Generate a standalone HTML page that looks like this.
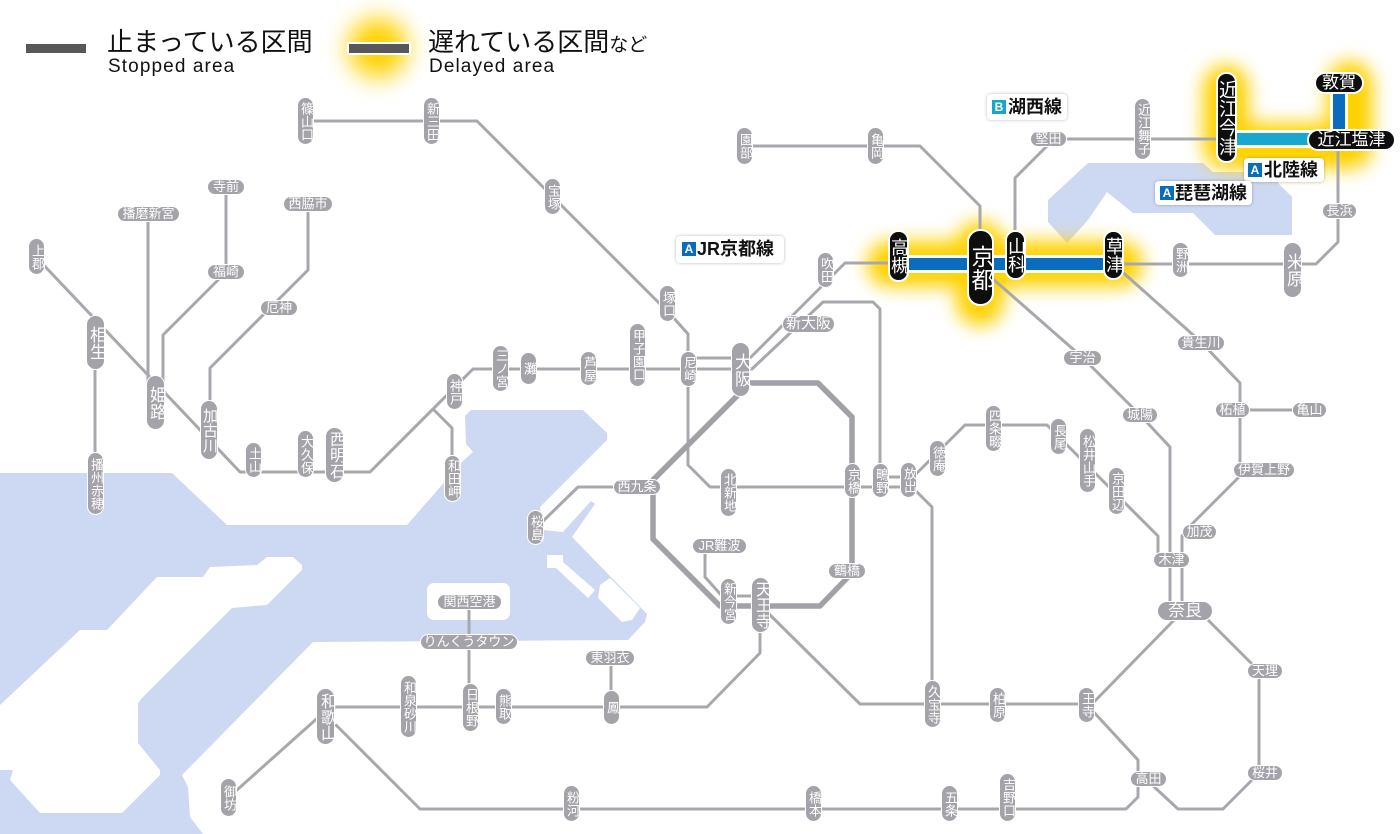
<!DOCTYPE html>
<html><head><meta charset="utf-8">
<style>
html,body{margin:0;padding:0;background:#fff}
#c{position:relative;width:1400px;height:834px;overflow:hidden;background:#fff;font-family:"Liberation Sans","Noto Sans CJK JP",sans-serif}
svg{position:absolute;left:0;top:0}
.p{position:absolute;box-sizing:border-box;border:1.5px solid #fff;background:#a4a3a9;color:#fff;text-align:center;white-space:nowrap;font-size:13px;font-family:"Liberation Sans","Noto Sans CJK JP",sans-serif}
.v{writing-mode:vertical-rl;text-orientation:upright}
.k{background:#0e0e0e;border:2px solid #fff}
.t{position:absolute;white-space:nowrap;color:#111}
.lb{position:absolute;background:#fff;border-radius:4px;box-shadow:0 0 3px rgba(0,0,0,.28)}
.sq{position:absolute;color:#fff;font-family:"Liberation Sans",sans-serif;font-weight:bold;font-size:12px;text-align:center}
.lt{position:absolute;white-space:nowrap;color:#111;font-size:18px;font-weight:bold;font-family:"Liberation Sans","Noto Sans CJK JP",sans-serif}
</style></head><body><div id="c">
<svg width="1400" height="834" viewBox="0 0 1400 834">
<defs>
<filter id="bl" x="-50%" y="-50%" width="200%" height="200%"><feGaussianBlur stdDeviation="9"/></filter>
<filter id="bl2" x="-80%" y="-80%" width="260%" height="260%"><feGaussianBlur stdDeviation="12"/></filter>
</defs>
<!-- water -->
<polygon fill="#cdd8f2" points="0,473 172,473 227,525 407,525 462,462 473,452 466,444 465,416 471,410 583,410 607,433 607,440 540,507 543,530 563,532 591,501 595,504 572,537 647,614 645,622 628,640 313,642 182,775 188,787 190,817 203,834 0,834"/>
<polygon fill="#fff" points="0,705 80,630 107,630 157,577 203,577 210,567 257,565 267,557 293,557 302,565 302,570 267,605 232,608 143,697 138,703 138,743 160,770 160,775 122,813 40,813 10,780 13,770 0,770"/>
<rect x="427" y="583" width="83" height="37" rx="7" fill="#fff"/>
<polygon fill="#fff" points="547,555 563,555 563,562 595,590 588,598 556,568 547,568"/>
<polygon fill="#fff" points="600,585 610,578 640,608 632,620 622,622 598,598"/>
<!-- lake -->
<polygon fill="#cdd8f2" points="1088,163 1203,163 1213,172 1270,172 1280,185 1292,197 1292,235 1215,235 1193,213 1133,213 1107,192 1088,220 1067,243 1048,222 1048,200"/>
<!-- glow -->
<g filter="url(#bl)" fill="none" stroke="#ffd200" stroke-linecap="round" stroke-linejoin="round">
<path d="M890,264 H1120" stroke-width="46"/>
<path d="M980,245 V302" stroke-width="48"/>
<path d="M1226,88 V146 H1350 V84" stroke-width="46"/>
</g>
<circle cx="378" cy="48" r="30" fill="#ffd200" filter="url(#bl2)"/>
<!-- gray lines -->
<g fill="none" stroke="#a8a7ad" stroke-width="3" stroke-linejoin="round">
<path d="M305,121 H477 L672,316 L688,334 V368"/>
<path d="M688,368 V465 L710,487 H908"/>
<path d="M36,257 L240,472 H370 L473,369 H752 L823,302 H873 L880,309 V480"/>
<path d="M688,358 H750 L845,263 H890"/>
<path d="M537,527 L578,487 H637"/>
<path d="M705,547 V577 L722,596 H760"/>
<path d="M760,606 V653 L707,707 H325"/>
<path d="M765,610 L860,704 H1092 L1178,616"/>
<path d="M1090,708 L1138,760 V779"/>
<path d="M1138,779 V797 L1126,809 H420 L330,719"/>
<path d="M1150,783 L1178,809 H1223 L1259,773 V671 L1208,620"/>
<path d="M228,798 L322,714"/>
<path d="M469,602 V707"/>
<path d="M611,658 V707"/>
<path d="M744,146 H920 L980,206 V267"/>
<path d="M1113,264 H1316 L1338,242 V150"/>
<path d="M1015,254 V178 L1054,139 H1226"/>
<path d="M985,272 L1082,357 L1140,415 L1170,447 V611"/>
<path d="M1118,268 L1201,342 L1240,383 V476"/>
<path d="M1240,410 H1309"/>
<path d="M1240,476 L1192,524 L1182,536 V611"/>
<path d="M908,482 L965,425 H1047 L1158,536 V560"/>
<path d="M912,487 L932,507 V704"/>
<path d="M880,477 H908"/>
<path d="M95,342 V483"/>
<path d="M148,214 V402"/>
<path d="M226,187 V272 L163,335 V402"/>
<path d="M308,204 V270 L210,368 V430"/>
<path d="M433,409 L452,428 V478"/>
<path d="M745,383 H818 L852,417 V573 L820,606 H720 L653,539 V480 L740,393" stroke-width="5.5" stroke="#a2a1a8"/>
</g>
<!-- delayed colored lines -->
<g fill="none" stroke-linecap="butt">
<path d="M888,264 H1120" stroke="#fff" stroke-width="18"/>
<path d="M888,264 H1120" stroke="#0b6cbe" stroke-width="12"/>
<path d="M1339,80 V146" stroke="#fff" stroke-width="18"/>
<path d="M1226,139 H1346" stroke="#fff" stroke-width="18"/>
<path d="M1339,80 V140" stroke="#0b6cbe" stroke-width="12"/>
<path d="M1226,139 H1340" stroke="#18a8cf" stroke-width="12"/>
</g>
<!-- legend bars -->
<rect x="26" y="44" width="60" height="9" fill="#58585b"/>
<rect x="347" y="42" width="64" height="13" fill="#fff"/>
<rect x="349" y="44" width="60" height="9" fill="#58585b"/>
</svg>

<!-- legend text -->
<div class="t" style="left:107px;top:28px;font-size:26px;line-height:28px;">止まっている区間</div>
<div class="t" style="left:108px;top:57px;font-size:19px;line-height:20px;letter-spacing:1.1px;">Stopped area</div>
<div class="t" style="left:428px;top:28px;font-size:26px;line-height:28px;">遅れている区間<span style="font-size:19px">など</span></div>
<div class="t" style="left:429px;top:57px;font-size:19px;line-height:20px;letter-spacing:1.1px;">Delayed area</div>

<!-- line labels -->
<div class="lb" style="left:676px;top:236px;width:108px;height:27px"></div>
<div class="sq" style="left:682px;top:242px;width:14px;height:14px;line-height:14px;background:#0b6cb9">A</div>
<div class="lt" style="left:697px;top:236px;line-height:27px">JR京都線</div>

<div class="lb" style="left:987px;top:94px;width:80px;height:26px"></div>
<div class="sq" style="left:992px;top:100px;width:14px;height:14px;line-height:14px;background:#18a6cd">B</div>
<div class="lt" style="left:1008px;top:94px;line-height:26px">湖西線</div>

<div class="lb" style="left:1244px;top:158px;width:80px;height:24px"></div>
<div class="sq" style="left:1248px;top:163px;width:14px;height:14px;line-height:14px;background:#0b6cb9">A</div>
<div class="lt" style="left:1264px;top:158px;line-height:24px">北陸線</div>

<div class="lb" style="left:1155px;top:181px;width:97px;height:24px"></div>
<div class="sq" style="left:1160px;top:186px;width:14px;height:14px;line-height:14px;background:#0b6cb9">A</div>
<div class="lt" style="left:1175px;top:181px;line-height:24px">琵琶湖線</div>

<!-- vertical gray stations -->
<div class="p v" style="left:297px;top:97px;width:17px;height:48px;line-height:14px;border-radius:9px">篠山口</div>
<div class="p v" style="left:423px;top:97px;width:17px;height:48px;line-height:14px;border-radius:9px">新三田</div>
<div class="p v" style="left:544px;top:178px;width:17px;height:37px;line-height:14px;border-radius:9px">宝塚</div>
<div class="p v" style="left:659px;top:285px;width:17px;height:37px;line-height:14px;border-radius:9px">塚口</div>
<div class="p v" style="left:680px;top:351px;width:17px;height:36px;line-height:14px;border-radius:9px">尼崎</div>
<div class="p v" style="left:629px;top:323px;width:17px;height:64px;line-height:14px;border-radius:9px">甲子園口</div>
<div class="p v" style="left:580px;top:351px;width:17px;height:35px;line-height:14px;border-radius:9px">芦屋</div>
<div class="p v" style="left:520px;top:352px;width:17px;height:33px;line-height:14px;border-radius:9px">灘</div>
<div class="p v" style="left:492px;top:345px;width:17px;height:47px;line-height:14px;border-radius:9px">三ノ宮</div>
<div class="p v" style="left:446px;top:373px;width:17px;height:37px;line-height:14px;border-radius:9px">神戸</div>
<div class="p v" style="left:444px;top:455px;width:17px;height:47px;line-height:14px;border-radius:9px">和田岬</div>
<div class="p v" style="left:297px;top:430px;width:17px;height:48px;line-height:14px;border-radius:9px">大久保</div>
<div class="p v" style="left:245px;top:442px;width:17px;height:36px;line-height:14px;border-radius:9px">土山</div>
<div class="p v" style="left:28px;top:238px;width:17px;height:37px;line-height:14px;border-radius:9px">上郡</div>
<div class="p v" style="left:87px;top:452px;width:17px;height:63px;line-height:14px;border-radius:9px">播州赤穂</div>
<div class="p v" style="left:200px;top:400px;width:18px;height:60px;line-height:15px;border-radius:9px;font-size:15px">加古川</div>
<div class="p v" style="left:325px;top:427px;width:19px;height:56px;line-height:16px;border-radius:10px;font-size:16px">西明石</div>
<div class="p v" style="left:817px;top:252px;width:17px;height:36px;line-height:14px;border-radius:9px">吹田</div>
<div class="p v" style="left:736px;top:127px;width:17px;height:38px;line-height:14px;border-radius:9px">園部</div>
<div class="p v" style="left:867px;top:127px;width:17px;height:38px;line-height:14px;border-radius:9px">亀岡</div>
<div class="p v" style="left:720px;top:468px;width:17px;height:49px;line-height:14px;border-radius:9px">北新地</div>
<div class="p v" style="left:844px;top:463px;width:17px;height:35px;line-height:14px;border-radius:9px">京橋</div>
<div class="p v" style="left:872px;top:463px;width:17px;height:35px;line-height:14px;border-radius:9px">鴫野</div>
<div class="p v" style="left:900px;top:462px;width:17px;height:36px;line-height:14px;border-radius:9px">放出</div>
<div class="p v" style="left:929px;top:440px;width:17px;height:37px;line-height:14px;border-radius:9px">徳庵</div>
<div class="p v" style="left:985px;top:405px;width:17px;height:47px;line-height:14px;border-radius:9px">四条畷</div>
<div class="p v" style="left:1050px;top:418px;width:17px;height:37px;line-height:14px;border-radius:9px">長尾</div>
<div class="p v" style="left:1079px;top:428px;width:17px;height:65px;line-height:14px;border-radius:9px">松井山手</div>
<div class="p v" style="left:1108px;top:467px;width:17px;height:48px;line-height:14px;border-radius:9px">京田辺</div>
<div class="p v" style="left:1134px;top:98px;width:17px;height:62px;line-height:14px;border-radius:9px">近江舞子</div>
<div class="p v" style="left:1172px;top:242px;width:17px;height:36px;line-height:14px;border-radius:9px">野洲</div>
<div class="p v" style="left:527px;top:510px;width:17px;height:35px;line-height:14px;border-radius:9px">桜島</div>
<div class="p v" style="left:720px;top:578px;width:17px;height:47px;line-height:14px;border-radius:9px">新今宮</div>
<div class="p v" style="left:924px;top:680px;width:17px;height:48px;line-height:14px;border-radius:9px">久宝寺</div>
<div class="p v" style="left:989px;top:687px;width:17px;height:36px;line-height:14px;border-radius:9px">柏原</div>
<div class="p v" style="left:1078px;top:687px;width:17px;height:36px;line-height:14px;border-radius:9px">王寺</div>
<div class="p v" style="left:999px;top:773px;width:17px;height:49px;line-height:14px;border-radius:9px">吉野口</div>
<div class="p v" style="left:941px;top:785px;width:17px;height:37px;line-height:14px;border-radius:9px">五条</div>
<div class="p v" style="left:563px;top:785px;width:17px;height:37px;line-height:14px;border-radius:9px">粉河</div>
<div class="p v" style="left:805px;top:785px;width:17px;height:37px;line-height:14px;border-radius:9px">橋本</div>
<div class="p v" style="left:220px;top:778px;width:17px;height:39px;line-height:14px;border-radius:9px">御坊</div>
<div class="p v" style="left:400px;top:675px;width:17px;height:63px;line-height:14px;border-radius:9px">和泉砂川</div>
<div class="p v" style="left:462px;top:683px;width:17px;height:49px;line-height:14px;border-radius:9px">日根野</div>
<div class="p v" style="left:495px;top:688px;width:17px;height:37px;line-height:14px;border-radius:9px">熊取</div>
<div class="p v" style="left:603px;top:690px;width:17px;height:35px;line-height:14px;border-radius:9px">鳳</div>

<!-- big vertical gray -->
<div class="p v" style="left:86px;top:315px;width:19px;height:55px;line-height:16px;border-radius:10px;font-size:17px">相生</div>
<div class="p v" style="left:146px;top:375px;width:19px;height:55px;line-height:16px;border-radius:10px;font-size:17px">姫路</div>
<div class="p v" style="left:731px;top:342px;width:19px;height:55px;line-height:16px;border-radius:10px;font-size:17px">大阪</div>
<div class="p v" style="left:751px;top:577px;width:19px;height:56px;line-height:16px;border-radius:10px;font-size:16px">天王寺</div>
<div class="p v" style="left:316px;top:688px;width:19px;height:57px;line-height:16px;border-radius:10px;font-size:16px">和歌山</div>
<div class="p v" style="left:1283px;top:242px;width:19px;height:56px;line-height:16px;border-radius:10px;font-size:17px">米原</div>

<!-- horizontal gray -->
<div class="p" style="left:117px;top:206px;width:63px;height:16px;line-height:13px;border-radius:8px">播磨新宮</div>
<div class="p" style="left:207px;top:179px;width:38px;height:16px;line-height:13px;border-radius:8px">寺前</div>
<div class="p" style="left:207px;top:264px;width:38px;height:16px;line-height:13px;border-radius:8px">福崎</div>
<div class="p" style="left:283px;top:196px;width:50px;height:16px;line-height:13px;border-radius:8px">西脇市</div>
<div class="p" style="left:260px;top:300px;width:38px;height:16px;line-height:13px;border-radius:8px">厄神</div>
<div class="p" style="left:782px;top:315px;width:53px;height:18px;line-height:15px;border-radius:9px;font-size:15px">新大阪</div>
<div class="p" style="left:613px;top:479px;width:48px;height:16px;line-height:13px;border-radius:8px">西九条</div>
<div class="p" style="left:692px;top:538px;width:55px;height:16px;line-height:13px;border-radius:8px">JR難波</div>
<div class="p" style="left:828px;top:563px;width:38px;height:16px;line-height:13px;border-radius:8px">鶴橋</div>
<div class="p" style="left:437px;top:594px;width:65px;height:16px;line-height:13px;border-radius:8px">関西空港</div>
<div class="p" style="left:420px;top:634px;width:98px;height:16px;line-height:13px;border-radius:8px">りんくうタウン</div>
<div class="p" style="left:585px;top:650px;width:50px;height:16px;line-height:13px;border-radius:8px">東羽衣</div>
<div class="p" style="left:1030px;top:131px;width:37px;height:16px;line-height:13px;border-radius:8px">堅田</div>
<div class="p" style="left:1322px;top:203px;width:35px;height:16px;line-height:13px;border-radius:8px">長浜</div>
<div class="p" style="left:1063px;top:350px;width:39px;height:16px;line-height:13px;border-radius:8px">宇治</div>
<div class="p" style="left:1122px;top:407px;width:36px;height:16px;line-height:13px;border-radius:8px">城陽</div>
<div class="p" style="left:1177px;top:335px;width:48px;height:16px;line-height:13px;border-radius:8px">貴生川</div>
<div class="p" style="left:1215px;top:402px;width:35px;height:16px;line-height:13px;border-radius:8px">柘植</div>
<div class="p" style="left:1292px;top:402px;width:35px;height:16px;line-height:13px;border-radius:8px">亀山</div>
<div class="p" style="left:1233px;top:462px;width:62px;height:16px;line-height:13px;border-radius:8px">伊賀上野</div>
<div class="p" style="left:1182px;top:524px;width:35px;height:16px;line-height:13px;border-radius:8px">加茂</div>
<div class="p" style="left:1153px;top:552px;width:37px;height:16px;line-height:13px;border-radius:8px">木津</div>
<div class="p" style="left:1247px;top:663px;width:36px;height:16px;line-height:13px;border-radius:8px">天理</div>
<div class="p" style="left:1247px;top:765px;width:36px;height:16px;line-height:13px;border-radius:8px">桜井</div>
<div class="p" style="left:1130px;top:771px;width:37px;height:16px;line-height:13px;border-radius:8px">高田</div>
<div class="p" style="left:1157px;top:601px;width:56px;height:20px;line-height:17px;border-radius:10px;font-size:17px">奈良</div>

<!-- black (delayed) stations -->
<div class="p v k" style="left:888px;top:230px;width:21px;height:52px;line-height:17px;border-radius:10px;font-size:18px">高槻</div>
<div class="p v k" style="left:967px;top:229px;width:27px;height:77px;line-height:23px;border-radius:13px;font-size:23px">京都</div>
<div class="p v k" style="left:1005px;top:230px;width:21px;height:50px;line-height:17px;border-radius:10px;font-size:18px">山科</div>
<div class="p v k" style="left:1103px;top:230px;width:21px;height:50px;line-height:17px;border-radius:10px;font-size:18px">草津</div>
<div class="p v k" style="left:1216px;top:72px;width:21px;height:91px;line-height:17px;border-radius:10px;font-size:19px">近江今津</div>
<div class="p k" style="left:1314px;top:72px;width:50px;height:22px;line-height:18px;border-radius:11px;font-size:17px">敦賀</div>
<div class="p k" style="left:1307px;top:129px;width:89px;height:22px;line-height:18px;border-radius:11px;font-size:17px">近江塩津</div>
</div></body></html>
